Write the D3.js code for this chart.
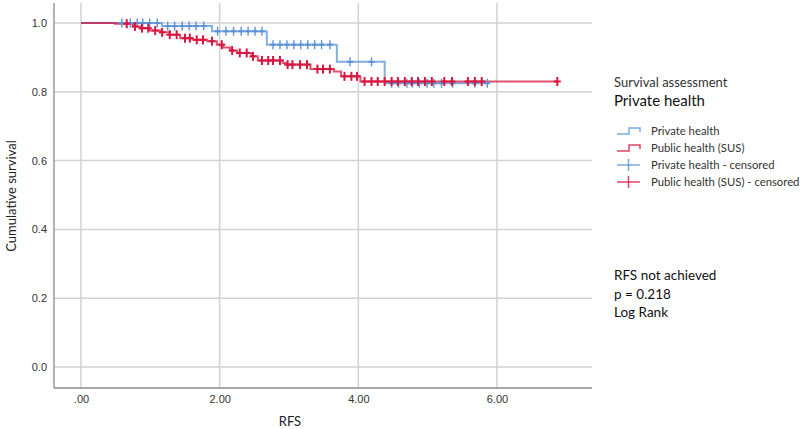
<!DOCTYPE html>
<html>
<head>
<meta charset="utf-8">
<script src="https://cdn.jsdelivr.net/npm/d3@7"></script>
<style>
  html, body { margin: 0; padding: 0; background: #fff; }
  svg { display: block; font-family: Lato, "Open Sans", "Liberation Sans", sans-serif; }
</style>
</head>
<body>
<svg id="chart" width="800" height="429"></svg>
<script>
// ---------------- data ----------------
const xTickValues = [0, 2, 4, 6];
const xTickLabels = [".00", "2.00", "4.00", "6.00"];
const yTickValues = [0, 0.2, 0.4, 0.6, 0.8, 1.0];
const yTickLabels = ["0.0", "0.2", "0.4", "0.6", "0.8", "1.0"];

// Private health (blue)
const privateStepTimes = [1.17, 1.89, 2.68, 3.69, 4.38];
const privateStepSurv  = [0.991, 0.976, 0.937, 0.887, 0.825];
const privateEnd = 5.88;
const privateCensored = [0.59, 0.71, 0.81, 0.89, 0.99, 1.10, 1.25, 1.35, 1.46, 1.56, 1.66, 1.77,
  1.97, 2.09, 2.20, 2.31, 2.41, 2.51, 2.61, 2.77, 2.87, 2.97, 3.07, 3.17, 3.27, 3.37, 3.47, 3.59,
  3.88, 4.19, 4.48, 4.58, 4.70, 4.78, 4.88, 4.99, 5.09, 5.20, 5.36, 5.68, 5.86];

// Public health (SUS) (red)
const publicStepTimes = [0.49, 0.75, 0.85, 0.99, 1.14, 1.28, 1.43, 1.61, 1.82, 1.96, 2.05, 2.15,
  2.25, 2.46, 2.55, 2.91, 2.97, 3.31, 3.65, 3.75, 4.03];
const publicStepSurv = [0.998, 0.990, 0.985, 0.978, 0.973, 0.966, 0.956, 0.951, 0.947, 0.937, 0.929,
  0.920, 0.913, 0.903, 0.891, 0.884, 0.879, 0.866, 0.859, 0.845, 0.830];
const publicEnd = 6.87;
const publicCensored = [0.66, 0.78, 0.88, 0.97, 1.07, 1.17, 1.28, 1.38, 1.50, 1.57, 1.67, 1.76,
  1.89, 2.03, 2.18, 2.29, 2.39, 2.48, 2.61, 2.70, 2.77, 2.87, 2.98, 3.05, 3.16, 3.26, 3.41, 3.49,
  3.59, 3.80, 3.90, 3.98, 4.09, 4.19, 4.28, 4.38, 4.48, 4.57, 4.67, 4.77, 4.86, 4.96, 5.06, 5.24,
  5.35, 5.58, 5.68, 5.78, 6.87];

const legendTitle = "Survival assessment";
const legendSubtitle = "Private health";
const legendLabels = ["Private health", "Public health (SUS)", "Private health - censored", "Public health (SUS) - censored"];
const noteLines = ["RFS not achieved", "p = 0.218", "Log Rank"];

// ---------------- drawing ----------------
const BLUE = "#5b93d6", RED = "#d6173f";
const svg = d3.select("#chart");
const frame = {left: 54, right: 592, top: 3, bottom: 388};

const x = d3.scaleLinear().domain([0, 6]).range([81, 497]);
const y = d3.scaleLinear().domain([0, 1]).range([367, 23]);

// grid
const grid = svg.append("g");
grid.selectAll("line.h").data(yTickValues).join("line")
  .attr("x1", frame.left).attr("x2", frame.right)
  .attr("y1", d => y(d)).attr("y2", d => y(d))
  .attr("stroke", "#d2d2d2").attr("stroke-width", 1.5);
grid.selectAll("line.v").data(xTickValues).join("line")
  .attr("y1", frame.top).attr("y2", frame.bottom)
  .attr("x1", d => x(d)).attr("x2", d => x(d))
  .attr("stroke", "#d2d2d2").attr("stroke-width", 1.5);

// axes
const xAxis = d3.axisBottom(x).tickValues(xTickValues)
  .tickFormat((d, i) => xTickLabels[i]).tickSize(0).tickPadding(7);
const gx = svg.append("g").attr("transform", `translate(0,${frame.bottom})`).call(xAxis);
gx.select(".domain").remove();
gx.selectAll("text").attr("font-size", 11).attr("fill", "#333")
  .attr("font-family", "'Liberation Sans Narrow', 'Liberation Sans', sans-serif");

const yAxis = d3.axisLeft(y).tickValues(yTickValues)
  .tickFormat((d, i) => yTickLabels[i]).tickSize(0).tickPadding(7);
const gy = svg.append("g").attr("transform", `translate(${frame.left},0)`).call(yAxis);
gy.select(".domain").remove();
gy.selectAll("text").attr("font-size", 11).attr("fill", "#333")
  .attr("font-family", "'Liberation Sans Narrow', 'Liberation Sans', sans-serif");

svg.append("line").attr("x1", frame.left).attr("x2", frame.left)
  .attr("y1", frame.top).attr("y2", frame.bottom).attr("stroke", "#8a8a8a").attr("stroke-width", 1.3);
svg.append("line").attr("x1", frame.left).attr("x2", frame.right)
  .attr("y1", frame.bottom).attr("y2", frame.bottom).attr("stroke", "#8a8a8a").attr("stroke-width", 1.3);

// survival curves
function buildPoints(times, surv, end) {
  const pts = [{t: 0, s: 1}];
  times.forEach((t, i) => pts.push({t: t, s: surv[i]}));
  pts.push({t: end, s: surv[surv.length - 1]});
  return pts;
}
function levelAt(times, surv, t) {
  let s = 1;
  for (let i = 0; i < times.length; i++) { if (times[i] <= t) s = surv[i]; }
  return s;
}
const line = d3.line().x(d => x(d.t)).y(d => y(d.s)).curve(d3.curveStepAfter);

const series = [
  {times: privateStepTimes, surv: privateStepSurv, end: privateEnd, cens: privateCensored, color: BLUE, tw: 1.4, th: 4.5, hw: 3},
  {times: publicStepTimes, surv: publicStepSurv, end: publicEnd, cens: publicCensored, color: RED, tw: 2, th: 4.5, hw: 3.5}
];

series.forEach(sr => {
  svg.append("path").datum(buildPoints(sr.times, sr.surv, sr.end))
    .attr("d", line).attr("fill", "none")
    .attr("stroke", sr.color).attr("stroke-width", 2).attr("stroke-opacity", 0.75);
});
series.forEach(sr => {
  const g = svg.append("g");
  const c = g.selectAll("g").data(sr.cens).join("g")
    .attr("transform", d => `translate(${x(d)},${y(levelAt(sr.times, sr.surv, d))})`);
  c.append("line").attr("x1", 0).attr("x2", 0).attr("y1", -sr.th).attr("y2", sr.th)
    .attr("stroke", sr.color).attr("stroke-width", sr.tw);
  c.append("line").attr("x1", -sr.hw).attr("x2", sr.hw).attr("y1", 0).attr("y2", 0)
    .attr("stroke", sr.color).attr("stroke-width", 2);
});

// axis titles
svg.append("text").attr("x", 290).attr("y", 426).attr("text-anchor", "middle")
  .attr("font-size", 13).attr("fill", "#222").text("RFS");
svg.append("text").attr("transform", "translate(16,196) rotate(-90)").attr("text-anchor", "middle")
  .attr("font-size", 13).attr("fill", "#222").text("Cumulative survival");

// legend
const lg = svg.append("g");
lg.append("text").attr("x", 614).attr("y", 87).attr("font-size", 13).attr("fill", "#333").text(legendTitle);
lg.append("text").attr("x", 614).attr("y", 106).attr("font-size", 15).attr("fill", "#111").text(legendSubtitle);
const legendColors = [BLUE, RED, BLUE, RED];
const legendY = [131, 148, 165, 182];
legendLabels.forEach((lab, i) => {
  const yy = legendY[i];
  const col = legendColors[i];
  if (i < 2) {
    const p = d3.path();
    p.moveTo(617, yy + 3); p.lineTo(629, yy + 3); p.lineTo(629, yy - 3);
    p.lineTo(640, yy - 3); p.lineTo(640, yy + 1);
    lg.append("path").attr("d", p.toString()).attr("fill", "none")
      .attr("stroke", col).attr("stroke-width", 1.5).attr("stroke-opacity", 0.8);
  } else {
    lg.append("line").attr("x1", 617).attr("x2", 640).attr("y1", yy).attr("y2", yy)
      .attr("stroke", col).attr("stroke-width", 1.5).attr("stroke-opacity", 0.8);
    lg.append("line").attr("x1", 628.5).attr("x2", 628.5).attr("y1", yy - 6).attr("y2", yy + 6)
      .attr("stroke", col).attr("stroke-width", 1.5).attr("stroke-opacity", 0.8);
  }
  lg.append("text").attr("x", 651).attr("y", yy + 4).attr("font-size", 11.3).attr("fill", "#333").text(lab);
});

// notes
noteLines.forEach((t, i) => {
  svg.append("text").attr("x", 614).attr("y", 280 + i * 18.5).attr("font-size", 13.5)
    .attr("fill", "#111").text(t);
});
</script>
</body>
</html>
